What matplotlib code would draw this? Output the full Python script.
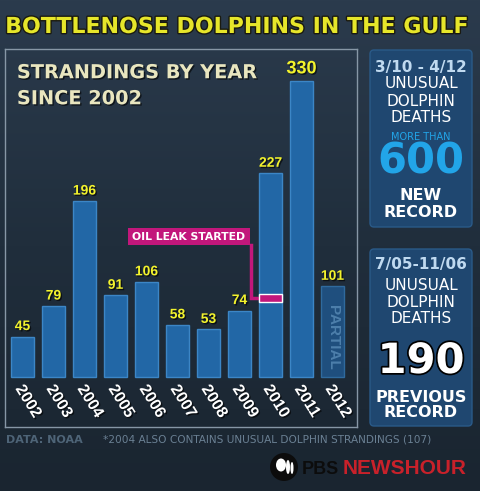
import numpy as np
import matplotlib.pyplot as plt
import matplotlib.patheffects as pe
from matplotlib.patches import Rectangle, FancyBboxPatch, Circle, Ellipse
from matplotlib.colors import LinearSegmentedColormap

# data
years = ['2002', '2003', '2004', '2005', '2006', '2007', '2008', '2009', '2010', '2011', '2012']
strandings = [45, 79, 196, 91, 106, 58, 53, 74, 227, 330, 101]
partial_year = '2012'
oil_leak_level = 88

W, H = 480, 491
fig = plt.figure(figsize=(4.8, 4.91), dpi=100)

# background axes in pixel units
bg = fig.add_axes([0, 0, 1, 1])
bg.set_xlim(0, W)
bg.set_ylim(H, 0)
bg.axis('off')
grad = np.linspace(0, 1, 256).reshape(-1, 1)
cm = LinearSegmentedColormap.from_list('bgc', ['#2b3b4d', '#202e3c', '#1a2530'])
bg.imshow(grad, extent=[0, W, H, 0], cmap=cm, aspect='auto', zorder=0)

shadow = [pe.withSimplePatchShadow(offset=(1, -1), shadow_rgbFace='black', alpha=0.6)]

# title
bg.text(237, 33, 'BOTTLENOSE DOLPHINS IN THE GULF', ha='center', va='baseline',
        color='#e6e62a', fontsize=15.9, fontweight='bold', family='DejaVu Sans',
        path_effects=[pe.withStroke(linewidth=2, foreground='#1a1a10')])

# chart axes = the framed panel
ax = fig.add_axes([5 / W, 1 - 427 / H, 352 / W, 378 / H])
ax.set_facecolor('none')
x = np.arange(len(years))
ax.set_xlim(-0.565, 10.79)
ax.set_ylim(-55.7, 365.6)
ax.set_xticks([])
ax.set_yticks([])
for s in ax.spines.values():
    s.set_color('#8797a6')
    s.set_linewidth(1)

fills = ['#1f4f7e' if y == partial_year else '#2267a6' for y in years]
edges = ['#2f6a9d' if y == partial_year else '#3c86c6' for y in years]
ax.bar(x, strandings, width=0.74, color=fills, edgecolor=edges, linewidth=1, zorder=2)

top = max(strandings)
for i, v in enumerate(strandings):
    ax.text(i, v + 4, str(v), ha='center', va='bottom', color='#f3f32c',
            fontsize=13 if v == top else 10, fontweight='bold', family='Liberation Sans',
            path_effects=shadow, zorder=4)
    ax.text(i + 0.19, -27, years[i], rotation=-58, ha='center', va='center',
            color='white', fontsize=11.5, fontweight='bold', family='Liberation Sans',
            path_effects=shadow)

pi = years.index(partial_year)
ax.text(pi, strandings[pi] * 0.44, 'PARTIAL', rotation=-90, ha='center', va='center',
        color='#4d7fab', fontsize=11, fontweight='bold', family='Liberation Sans', zorder=4)

for yb, line in [(333, 'STRANDINGS BY YEAR'), (304, 'SINCE 2002')]:
    ax.text(-0.18, yb, line, ha='left', va='baseline', color='#e9e6bf', fontsize=13.9,
            fontweight='bold', family='DejaVu Sans', path_effects=shadow)

# oil leak annotation
mag = '#c2177b'
li = years.index('2010')
ax.add_patch(Rectangle((3.4, 147), 3.94, 19, facecolor=mag, edgecolor='none', zorder=3))
ax.text(5.37, 156.5, 'OIL LEAK STARTED', ha='center', va='center', color='white',
        fontsize=7.8, fontweight='bold', family='DejaVu Sans', zorder=4)
ax.plot([7.38, 7.38, li - 0.37], [147, oil_leak_level, oil_leak_level], color=mag, lw=2.5,
        solid_joinstyle='miter', zorder=3)
ax.add_patch(Rectangle((li - 0.37, oil_leak_level - 4.5), 0.74, 9, facecolor=mag,
                       edgecolor='white', linewidth=1, zorder=3))

# right boxes
for y0, y1 in [(50, 227), (249, 426)]:
    bg.add_patch(FancyBboxPatch((370, y0), 102, y1 - y0, boxstyle='round,pad=0,rounding_size=4',
                                facecolor='#1f4770', edgecolor='#2a5a88', linewidth=1, zorder=1))

cx = 421
lb = '#c0daf0'
cyan = '#22a5e8'
def bt(y, s, color='white', size=11, weight='normal', **kw):
    bg.text(cx, y, s, ha='center', va='baseline', color=color, fontsize=size,
            fontweight=weight, family='DejaVu Sans', zorder=5, **kw)

bt(72, '3/10 - 4/12', lb, 11, 'bold')
bt(87.5, 'UNUSUAL', size=11)
bt(106, 'DOLPHIN', size=11)
bt(122, 'DEATHS', size=11)
bt(139.5, 'MORE THAN', cyan, 7)
bt(173, '600', cyan, 30, 'bold')
bt(200, 'NEW', size=11.5, weight='bold')
bt(217, 'RECORD', size=11.5, weight='bold')

bt(269, '7/05-11/06', lb, 11, 'bold')
bt(290, 'UNUSUAL', size=11)
bt(307, 'DOLPHIN', size=11)
bt(323, 'DEATHS', size=11)
bt(373, '190', 'white', 30, 'bold',
   path_effects=[pe.withStroke(linewidth=2.5, foreground='black')])
bt(402, 'PREVIOUS', size=11.5, weight='bold')
bt(417, 'RECORD', size=11.5, weight='bold')

# footer
bg.text(6, 440, 'DATA: NOAA', ha='left', va='center', color='#4e6477',
        fontsize=8, fontweight='bold', family='DejaVu Sans')
bg.text(103, 440, '*2004 ALSO CONTAINS UNUSUAL DOLPHIN STRANDINGS (107)', ha='left',
        va='center', color='#6a8093', fontsize=7.6, family='DejaVu Sans')

# PBS logo
bg.add_patch(Circle((284, 467), 14, facecolor='#0c0c0c', edgecolor='none', zorder=3))
bg.add_patch(Ellipse((281, 465), 10, 13, facecolor='white', edgecolor='none', zorder=4))
bg.add_patch(Ellipse((288, 467), 4, 14, facecolor='white', edgecolor='none', zorder=4))
bg.add_patch(Ellipse((292, 468), 3, 12, facecolor='white', edgecolor='none', zorder=4))
bg.text(302, 474, 'PBS', ha='left', va='baseline', color='#0c0c0c', fontsize=13,
        fontweight='bold', family='Liberation Sans')
bg.text(343, 474, 'NEWSHOUR', ha='left', va='baseline', color='#c8212a', fontsize=15,
        fontweight='bold', family='Liberation Sans')

fig.savefig('out.png', dpi=100)
